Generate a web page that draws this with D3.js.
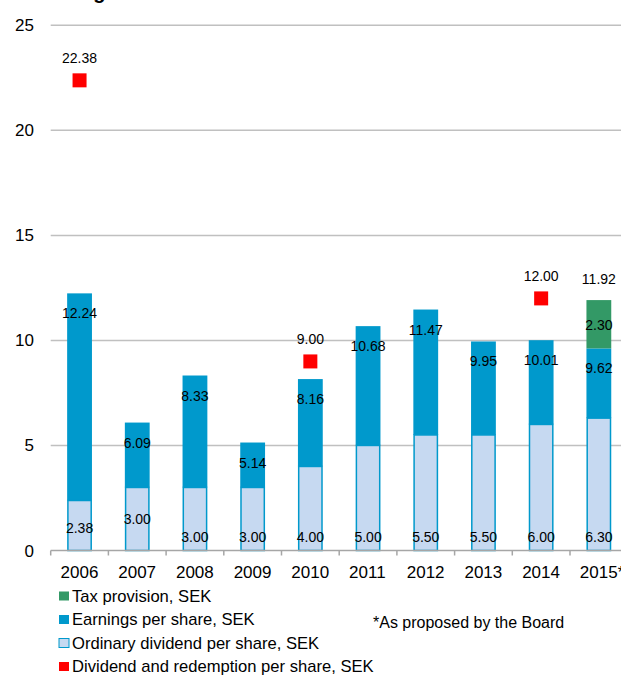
<!DOCTYPE html>
<html>
<head>
<meta charset="utf-8">
<script src="https://cdn.jsdelivr.net/npm/d3@7"></script>
<style>
  body { margin: 0; background: #fff; }
  svg { font-family: "Liberation Sans", Arial, sans-serif; }
</style>
</head>
<body>
<svg width="621" height="675"></svg>
<script>
const svg = d3.select("svg");

// data
const years = ["2006", "2007", "2008", "2009", "2010", "2011", "2012", "2013", "2014", "2015"];
const yearLabels = ["2006", "2007", "2008", "2009", "2010", "2011", "2012", "2013", "2014", "2015*"];
const dividend = [2.38, 3.0, 3.0, 3.0, 4.0, 5.0, 5.5, 5.5, 6.0, 6.3];
const eps = [12.24, 6.09, 8.33, 5.14, 8.16, 10.68, 11.47, 9.95, 10.01, 9.62];
const tax = [0, 0, 0, 0, 0, 0, 0, 0, 0, 2.3];
const redemption = [22.38, null, null, null, 9.0, null, null, null, 12.0, null];
const yTicks = [0, 5, 10, 15, 20, 25];

// the original places a couple of dividend labels higher (pixels)
const divLabelLift = [9, 18, 0, 0, 0, 0, 0, 0, 0, 0];

const colors = {
  tax: "#339966",
  eps: "#0099cc",
  div: "#c6d9f1",
  red: "#ff0000"
};

const rows = years.map((y, i) => ({
  year: y,
  label: yearLabels[i],
  div: dividend[i],
  eps: eps[i],
  tax: tax[i],
  red: redemption[i],
  lift: divLabelLift[i]
}));

const x = d3.scaleBand().domain(years).range([50.7, 627.7]);
const y = d3.scaleLinear().domain([0, 25]).range([550.5, 25.3]);
const bw = x.bandwidth() * 0.43;
const bx = d => x(d.year) + (x.bandwidth() - bw) / 2;
const cx = d => x(d.year) + x.bandwidth() / 2;

// title (cut off at the top in the original)
svg.append("text")
  .attr("x", 31)
  .attr("y", -1)
  .attr("font-size", 20)
  .attr("font-weight", "bold")
  .text("Earnings and dividends");

// gridlines
svg.append("g")
  .selectAll("line")
  .data(yTicks.filter(t => t > 0))
  .enter()
  .append("line")
  .attr("x1", 50.7)
  .attr("x2", 640)
  .attr("y1", d => y(d))
  .attr("y2", d => y(d))
  .attr("stroke", "#c0c0c0")
  .attr("stroke-width", 1.5);

// y tick labels
svg.append("g")
  .selectAll("text")
  .data(yTicks)
  .enter()
  .append("text")
  .attr("x", 34)
  .attr("y", d => y(d) + 6)
  .attr("text-anchor", "end")
  .attr("font-size", 17)
  .text(d => d);

const bars = svg.append("g")
  .selectAll("g")
  .data(rows)
  .enter()
  .append("g");

// earnings (full height up to EPS)
bars.append("rect")
  .attr("x", bx)
  .attr("width", bw)
  .attr("y", d => y(d.eps))
  .attr("height", d => y(d.div) - y(d.eps))
  .attr("fill", colors.eps);

// tax provision on top
bars.filter(d => d.tax > 0)
  .append("rect")
  .attr("x", bx)
  .attr("width", bw)
  .attr("y", d => y(d.eps + d.tax))
  .attr("height", d => y(d.eps) - y(d.eps + d.tax))
  .attr("fill", colors.tax);

// ordinary dividend
bars.append("rect")
  .attr("x", d => bx(d) + 0.75)
  .attr("width", bw - 1.5)
  .attr("y", d => y(d.div))
  .attr("height", d => y(0) - y(d.div))
  .attr("fill", colors.div)
  .attr("stroke", colors.eps)
  .attr("stroke-width", 1.5);

// x axis
const axis = svg.append("g");
axis.append("line")
  .attr("x1", 50.7)
  .attr("x2", 640)
  .attr("y1", y(0))
  .attr("y2", y(0))
  .attr("stroke", "#a6a6a6")
  .attr("stroke-width", 1.5);
axis.selectAll("line.tick")
  .data(years)
  .enter()
  .append("line")
  .attr("class", "tick")
  .attr("x1", d => x(d))
  .attr("x2", d => x(d))
  .attr("y1", y(0))
  .attr("y2", y(0) + 5)
  .attr("stroke", "#a6a6a6")
  .attr("stroke-width", 1.5);
axis.selectAll("text")
  .data(rows)
  .enter()
  .append("text")
  .attr("x", d => cx(d) - 19)
  .attr("y", 578)
  .attr("font-size", 17)
  .text(d => d.label);

// value labels
const lab = (sel, cls) => sel.append("text")
  .attr("class", cls)
  .attr("x", cx)
  .attr("text-anchor", "middle")
  .attr("font-size", 14)
  .attr("fill", "#000");

lab(bars, "div-lab")
  .attr("y", d => 542 - d.lift)
  .text(d => d.div.toFixed(2));

lab(bars, "eps-lab")
  .attr("y", d => y(d.eps) + 25)
  .text(d => d.eps.toFixed(2));

lab(bars.filter(d => d.tax > 0), "tax-lab")
  .attr("y", d => (y(d.eps) + y(d.eps + d.tax)) / 2 + 6)
  .text(d => d.tax.toFixed(2));

lab(bars.filter(d => d.tax > 0), "tot-lab")
  .attr("y", d => y(d.eps + d.tax) - 16)
  .text(d => (d.eps + d.tax).toFixed(2));

// dividend and redemption markers
const reds = bars.filter(d => d.red !== null);
reds.append("rect")
  .attr("x", d => cx(d) - 7)
  .attr("y", d => y(d.red) - 7)
  .attr("width", 14)
  .attr("height", 14)
  .attr("fill", colors.red);
lab(reds, "red-lab")
  .attr("y", d => y(d.red) - 17)
  .text(d => d.red.toFixed(2));

// legend
const legendItems = [
  { name: "Tax provision, SEK", fill: colors.tax, stroke: null },
  { name: "Earnings per share, SEK", fill: colors.eps, stroke: null },
  { name: "Ordinary dividend per share, SEK", fill: colors.div, stroke: colors.eps },
  { name: "Dividend and redemption per share, SEK", fill: colors.red, stroke: null }
];

const legend = svg.append("g")
  .selectAll("g")
  .data(legendItems)
  .enter()
  .append("g")
  .attr("transform", (d, i) => `translate(58.5, ${601.5 + i * 23.5})`);

legend.append("rect")
  .attr("x", 0.5)
  .attr("y", -10)
  .attr("width", 10)
  .attr("height", 9)
  .attr("fill", d => d.fill)
  .attr("stroke", d => d.stroke || "none")
  .attr("stroke-width", 1);

legend.append("text")
  .attr("x", 13.5)
  .attr("y", 0)
  .attr("font-size", 16.6)
  .text(d => d.name);

svg.append("text")
  .attr("x", 373)
  .attr("y", 628)
  .attr("font-size", 16)
  .text("*As proposed by the Board");
</script>
</body>
</html>
